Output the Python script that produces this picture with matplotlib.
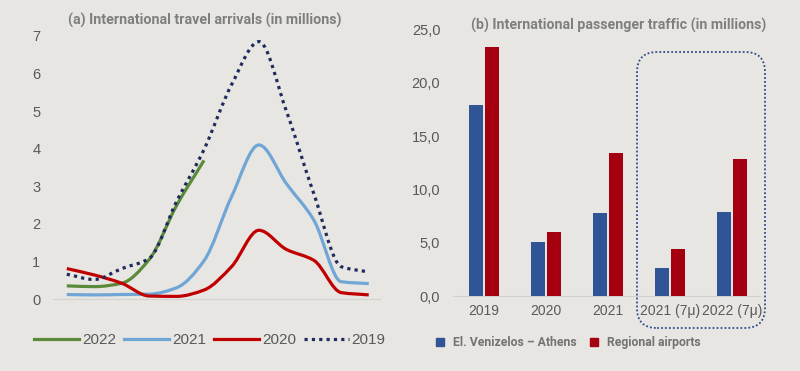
import matplotlib
matplotlib.use("Agg")
import matplotlib.pyplot as plt
import numpy as np
from matplotlib.path import Path
from matplotlib.patches import PathPatch, FancyBboxPatch
from matplotlib.lines import Line2D

# ---------------- data ----------------
months = ["Jan", "Feb", "Mar", "Apr", "May", "Jun", "Jul", "Aug", "Sep", "Oct", "Nov", "Dec"]
arr_2022 = [0.35, 0.33, 0.42, 1.05, 2.49, 3.69]
arr_2021 = [0.12, 0.11, 0.12, 0.13, 0.30, 1.02, 2.72, 4.10, 3.07, 2.10, 0.46, 0.41]
arr_2020 = [0.81, 0.64, 0.42, 0.08, 0.07, 0.24, 0.86, 1.83, 1.32, 1.03, 0.17, 0.11]
arr_2019 = [0.66, 0.52, 0.81, 1.08, 2.60, 3.98, 5.70, 6.85, 5.00, 2.80, 0.86, 0.72]
line_labels = ["2022", "2021", "2020", "2019"]

bar_cats = ["2019", "2020", "2021", "2021 (7μ)", "2022 (7μ)"]
athens = [17.9, 5.1, 7.75, 2.62, 7.87]
regional = [23.3, 5.97, 13.43, 4.37, 12.87]
bar_labels = ["El. Venizelos – Athens", "Regional airports"]

# ---------------- style ----------------
BG = "#E8E6E2"
TXT = "#595959"
TITLE = "#7F7F7F"
C22, C21, C20, C19 = "#5A8A3A", "#6FA6D6", "#C00000", "#1F2B5E"
CB, CR = "#2F5597", "#A50010"
HEAD_FONT = "Roboto"

fig = plt.figure(figsize=(8, 3.71), dpi=100, facecolor=BG)


def smooth_path(xs, ys):
    """Monotone cubic Bezier path through the data points (rendering only)."""
    xs = np.asarray(xs, float)
    ys = np.asarray(ys, float)
    n = len(xs)
    h = np.diff(xs)
    d = np.diff(ys) / h
    m = np.zeros(n)
    m[0], m[-1] = d[0], d[-1]
    for i in range(1, n - 1):
        if d[i - 1] * d[i] <= 0:
            m[i] = 0.0
        else:
            m[i] = 2.0 / (1.0 / d[i - 1] + 1.0 / d[i])
    verts = [(xs[0], ys[0])]
    codes = [Path.MOVETO]
    for i in range(n - 1):
        verts += [(xs[i] + h[i] / 3, ys[i] + m[i] * h[i] / 3),
                  (xs[i + 1] - h[i] / 3, ys[i + 1] - m[i + 1] * h[i] / 3),
                  (xs[i + 1], ys[i + 1])]
        codes += [Path.CURVE4] * 3
    return Path(verts, codes)


# ---------------- left chart ----------------
ax1 = fig.add_axes([0.066, 0.194, 0.409, 0.709])
ax1.set_facecolor(BG)
series = [(arr_2022, C22, "-"), (arr_2021, C21, "-"), (arr_2020, C20, "-"),
          (arr_2019, C19, (0, (1, 1.3)))]
handles = []
for (vals, col, ls), lab in zip(series, line_labels):
    xs = np.arange(len(vals))
    lw = 2.3
    ax1.add_patch(PathPatch(smooth_path(xs, vals), fill=False, edgecolor=col,
                            linewidth=lw, linestyle=ls, capstyle="butt", zorder=3))
    handles.append(Line2D([], [], color=col, lw=lw, linestyle=ls, label=lab))
ax1.set_xlim(-0.51, 11.41)
ax1.set_ylim(0, 7)
ax1.set_yticks(range(0, 8))
ax1.set_xticks([])
for s in ["top", "right", "left"]:
    ax1.spines[s].set_visible(False)
ax1.spines["bottom"].set_color("#D4D2CE")
ax1.tick_params(axis="y", length=0, pad=9, labelsize=10.5, labelcolor=TXT)
for t in ax1.get_yticklabels():
    t.set_family("Liberation Sans")
leg1 = fig.legend(handles=handles, loc="center", bbox_to_anchor=(0.2625, 0.0836),
                  ncol=4, frameon=False, handlelength=2.95, handletextpad=0.2,
                  columnspacing=0.5, borderpad=0, borderaxespad=0,
                  prop={"family": "Liberation Sans", "size": 11})
for t in leg1.get_texts():
    t.set_color(TXT)
fig.text(0.2556, 0.944, "(a) International travel arrivals (in millions)",
         ha="center", va="center", fontsize=10.3, fontweight="bold",
         family=HEAD_FONT, color=TITLE)

# ---------------- right chart ----------------
ax2 = fig.add_axes([0.566, 0.202, 0.384, 0.719])
ax2.set_facecolor(BG)
x = np.arange(len(bar_cats))
w = 0.22
ax2.bar(x - 0.13, athens, w, color=CB, label=bar_labels[0], zorder=3)
ax2.bar(x + 0.13, regional, w, color=CR, label=bar_labels[1], zorder=3)
ax2.set_xlim(-0.5, 4.45)
ax2.set_ylim(0, 25)
ax2.set_yticks(np.arange(0, 26, 5))
ax2.set_yticklabels([f"{v:.1f}".replace(".", ",") for v in np.arange(0, 26, 5)])
ax2.set_xticks(x)
ax2.set_xticklabels(bar_cats)
for s in ["top", "right", "left"]:
    ax2.spines[s].set_visible(False)
ax2.spines["bottom"].set_color("#D4D2CE")
ax2.tick_params(axis="y", length=0, pad=9, labelsize=10.5, labelcolor=TXT)
ax2.tick_params(axis="x", length=0, pad=6, labelsize=10, labelcolor=TXT)
for t in ax2.get_yticklabels() + ax2.get_xticklabels():
    t.set_family("Liberation Sans")

bh = [Line2D([], [], marker="s", color=CB, linestyle="none", markersize=5.2),
      Line2D([], [], marker="s", color=CR, linestyle="none", markersize=5.2)]
leg2 = fig.legend(bh, bar_labels, loc="center left", bbox_to_anchor=(0.5435, 0.0768),
                  ncol=2, frameon=False, handlelength=0.8, handletextpad=0.7,
                  columnspacing=1.0, borderpad=0, borderaxespad=0,
                  prop={"family": HEAD_FONT, "size": 8.8, "weight": "bold"})
for t in leg2.get_texts():
    t.set_color("#737373")

fig.text(0.773, 0.93, "(b) International passenger traffic (in millions)",
         ha="center", va="center", fontsize=10.2, fontweight="bold",
         family=HEAD_FONT, color=TITLE)

# dotted rounded box around the 7-month groups
box = FancyBboxPatch((6.37, 0.43), 1.28, 2.76, boxstyle="round,pad=0,rounding_size=0.2",
                     transform=fig.dpi_scale_trans, fill=False, edgecolor="#2F4A8A",
                     linewidth=1.3, linestyle=(0, (1, 1.2)), zorder=5)
fig.patches.append(box)

fig.savefig("out.png", dpi=100, facecolor=BG)
